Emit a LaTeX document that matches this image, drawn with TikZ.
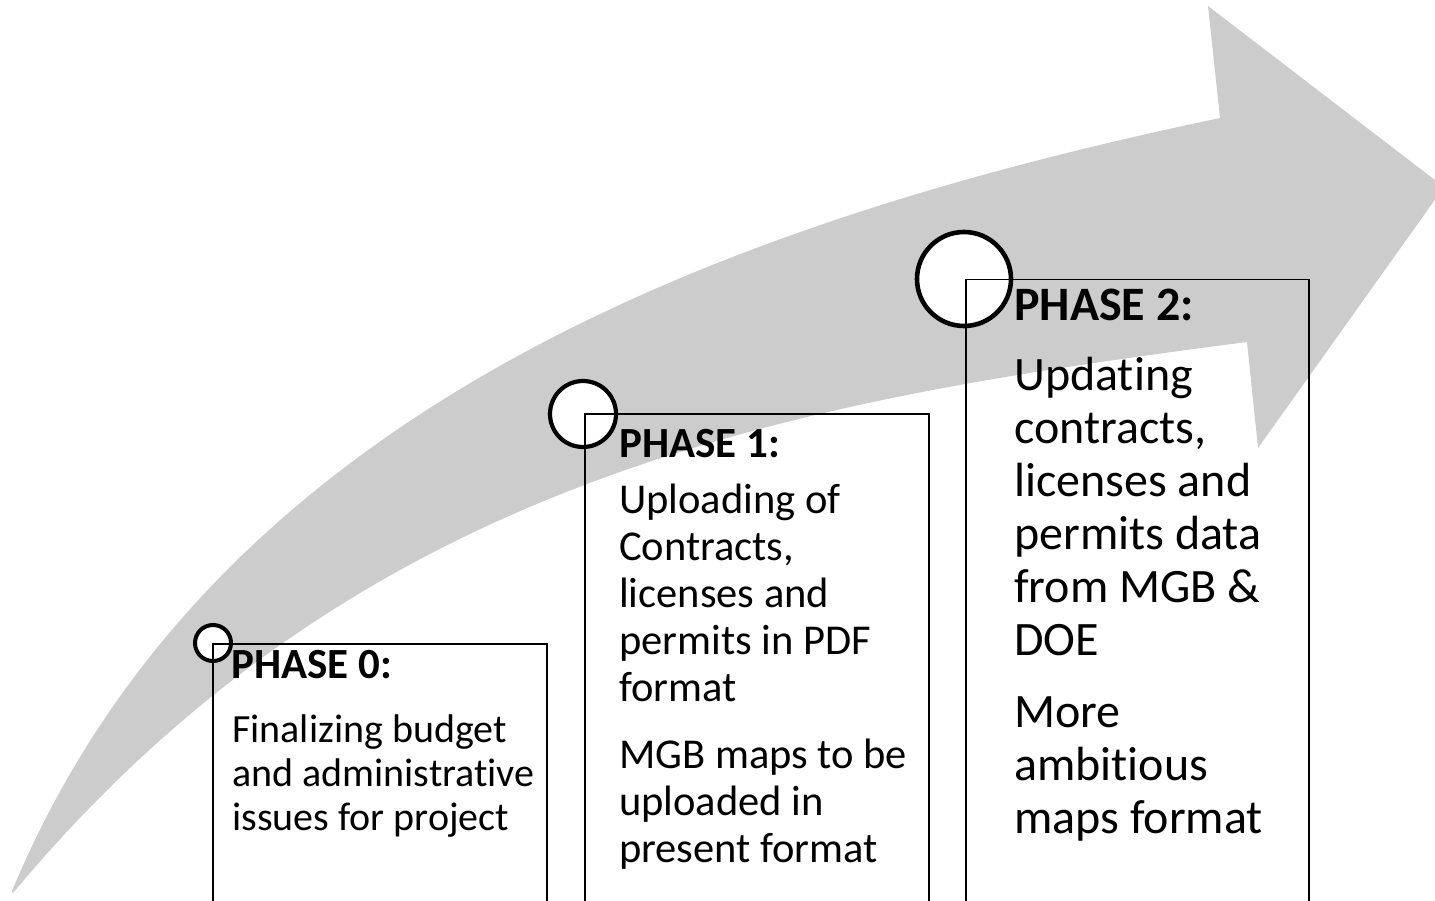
\documentclass[tikz,border=0pt]{standalone}
\usepackage{fontspec}
\setmainfont{Carlito}[Ligatures=CommonOff]
\definecolor{arrowgray}{RGB}{204,204,204}
\tikzset{
  phasebox/.style={draw=black, line width=1.6pt, inner sep=0pt, anchor=north west},
  marker/.style={circle, draw=black, fill=white, line width=4.5pt, inner sep=0pt},
  phasetitle/.style={anchor=base west, inner sep=0pt, font=\bfseries\fontsize{#1}{#1}\selectfont},
  phasetext/.style={anchor=base west, inner sep=0pt, font=\fontsize{#1}{#1}\selectfont},
}
\begin{document}
\begin{tikzpicture}[x=1pt, y=-1pt]
  \path[use as bounding box, clip] (0,0) rectangle (1435,901);

  % rising curved arrow
  \fill[arrowgray] (12,891) .. controls (212,411) and (720,223) .. (1220,118)
     -- (1208,6) -- (1444,187) -- (1258,448) -- (1247,342)
     .. controls (797,400.5) and (363,473) .. (13,893) -- cycle;

  % corner markers
  \node[marker, minimum size=36pt, line width=4pt] (m0) at (213,643) {};
  \node[marker, minimum size=66pt, line width=4.2pt] (m1) at (583,414) {};
  \node[marker, minimum size=94pt, line width=4.6pt] (m2) at (964,279) {};

  % phase boxes (open towards the bottom edge)
  \node[phasebox, minimum width=334pt, minimum height=300pt, line width=2pt] (box0) at (212,643) {};
  \node[phasebox, minimum width=344pt, minimum height=520pt, line width=1.5pt] (box1) at (584,413) {};
  \node[phasebox, minimum width=343pt, minimum height=660pt, line width=1.5pt] (box2) at (965,279) {};

  % phase 0
  \node[phasetitle=43] (t0) at (231,678) {PHASE 0:};
  \foreach \txt [count=\i] in {Finalizing budget, and administrative, issues for project}
    \node[phasetext=40] (p0-\i) at (232,{742+44*(\i-1)}) {\txt};

  % phase 1
  \node[phasetitle=43] (t1) at (619,457) {PHASE 1:};
  \foreach \txt [count=\i] in {Uploading of, {Contracts,}, licenses and, permits in PDF, format}
    \node[phasetext=42.5] (p1a-\i) at (619,{513+47*(\i-1)}) {\txt};
  \foreach \txt [count=\i] in {MGB maps to be, uploaded in, present format}
    \node[phasetext=42.5] (p1b-\i) at (619,{768+47*(\i-1)}) {\txt};

  % phase 2
  \node[phasetitle=48] (t2) at (1014,320) {PHASE 2:};
  \foreach \txt [count=\i] in {Updating, {contracts,}, licenses and, permits data, from MGB \&, DOE}
    \node[phasetext=48] (p2a-\i) at (1014,{390+53*(\i-1)}) {\txt};
  \foreach \txt [count=\i] in {More, ambitious, maps format}
    \node[phasetext=48] (p2b-\i) at (1014,{727+53*(\i-1)}) {\txt};
\end{tikzpicture}
\end{document}
